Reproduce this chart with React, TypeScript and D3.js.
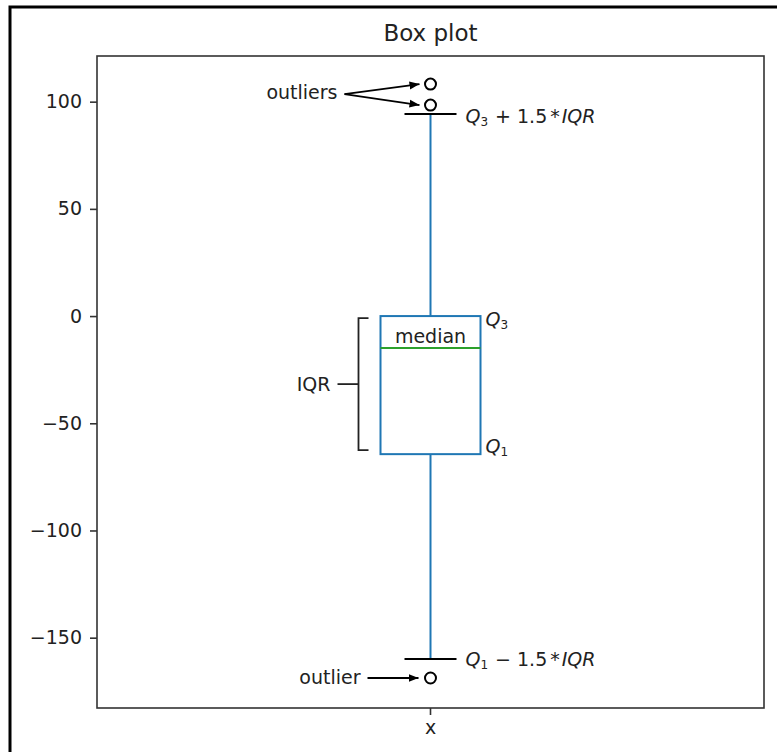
import React, { useEffect, useRef } from "react";
import * as d3 from "d3";

// box statistics
const categories = ["x"];
const q1 = [-64.4];
const median = [-14.9];
const q3 = [0];
const whiskerLow = [-160];
const whiskerHigh = [94.2];
const outliers = [[108.2, 98.4, -168.8]];
const yTicks = [-150, -100, -50, 0, 50, 100];

const W = 777;
const H = 752;
const FONT = "DejaVu Sans, sans-serif";

function App() {
  const ref = useRef<SVGSVGElement>(null);

  useEffect(() => {
    const svg = d3.select(ref.current);
    svg.selectAll("*").remove();

    const margin = { top: 56, right: 13, bottom: 44, left: 97 };
    const w = W - margin.left - margin.right;
    const h = H - margin.top - margin.bottom;

    // figure frame (only left/top visible in the crop)
    svg.append("rect")
      .attr("x", 10).attr("y", 7)
      .attr("width", W + 20).attr("height", H + 20)
      .attr("fill", "white").attr("stroke", "black").attr("stroke-width", 3);

    const defs = svg.append("defs");
    defs.append("marker")
      .attr("id", "arrow")
      .attr("viewBox", "0 0 10 10")
      .attr("refX", 10).attr("refY", 5)
      .attr("markerWidth", 10).attr("markerHeight", 10)
      .attr("markerUnits", "userSpaceOnUse")
      .attr("orient", "auto")
      .append("path").attr("d", "M0,1 L10,5 L0,9 Z").attr("fill", "black");

    const g = svg.append("g").attr("transform", `translate(${margin.left},${margin.top})`);

    const x = d3.scaleBand().domain(categories).range([0, w]);
    const y = d3.scaleLinear().domain([-182.8, 121.3]).range([h, 0]);

    // title
    g.append("text")
      .attr("x", w / 2).attr("y", -15)
      .attr("text-anchor", "middle")
      .style("font-family", FONT).style("font-size", "23px")
      .attr("fill", "#222")
      .text("Box plot");

    // axes
    const yAxis = g.append("g").call(d3.axisLeft(y).tickValues(yTicks).tickSize(7).tickPadding(8));
    const xAxis = g.append("g").attr("transform", `translate(0,${h})`)
      .call(d3.axisBottom(x).tickSize(7).tickPadding(6));
    [yAxis, xAxis].forEach(a => {
      a.select(".domain").remove();
      a.selectAll("line").attr("stroke", "#333").attr("stroke-width", 1.6);
      a.selectAll("text").style("font-family", FONT).style("font-size", "19px").attr("fill", "#222");
    });

    g.append("rect")
      .attr("width", w).attr("height", h)
      .attr("fill", "none").attr("stroke", "#333").attr("stroke-width", 1.6);

    const boxW = 100;
    const capW = 52;

    categories.forEach((c, i) => {
      const cx = (x(c) as number) + x.bandwidth() / 2;
      const left = cx - boxW / 2;
      const right = cx + boxW / 2;

      // whiskers
      g.append("line").attr("x1", cx).attr("x2", cx)
        .attr("y1", y(q3[i])).attr("y2", y(whiskerHigh[i]))
        .attr("stroke", "#1f77b4").attr("stroke-width", 2);
      g.append("line").attr("x1", cx).attr("x2", cx)
        .attr("y1", y(q1[i])).attr("y2", y(whiskerLow[i]))
        .attr("stroke", "#1f77b4").attr("stroke-width", 2);

      // caps
      [whiskerHigh[i], whiskerLow[i]].forEach(v => {
        g.append("line").attr("x1", cx - capW / 2).attr("x2", cx + capW / 2)
          .attr("y1", y(v)).attr("y2", y(v))
          .attr("stroke", "black").attr("stroke-width", 2);
      });

      // box
      g.append("rect")
        .attr("x", left).attr("y", y(q3[i]))
        .attr("width", boxW).attr("height", y(q1[i]) - y(q3[i]))
        .attr("fill", "none").attr("stroke", "#1f77b4").attr("stroke-width", 2);

      g.append("line").attr("x1", left).attr("x2", right)
        .attr("y1", y(median[i])).attr("y2", y(median[i]))
        .attr("stroke", "#2ca02c").attr("stroke-width", 2);

      // fliers
      g.selectAll(".flier" + i)
        .data(outliers[i])
        .enter().append("circle")
        .attr("cx", cx).attr("cy", d => y(d)).attr("r", 5.5)
        .attr("fill", "none").attr("stroke", "black").attr("stroke-width", 2);

      // annotations
      const txt = (tx: number, ty: number, s: string, anchor = "start") =>
        g.append("text")
          .attr("x", tx).attr("y", ty)
          .attr("text-anchor", anchor)
          .attr("dominant-baseline", "central")
          .style("font-family", FONT).style("font-size", "19px")
          .attr("fill", "#222")
          .text(s);

      const arrow = (x1: number, y1: number, x2: number, y2: number) =>
        g.append("line")
          .attr("x1", x1).attr("y1", y1).attr("x2", x2).attr("y2", y2)
          .attr("stroke", "black").attr("stroke-width", 1.8)
          .attr("marker-end", "url(#arrow)");

      const hi = outliers[i].filter(v => v > whiskerHigh[i]);
      const lo = outliers[i].filter(v => v < whiskerLow[i]);

      txt(cx - 93, y(104.5), "outliers", "end");
      hi.forEach(v => arrow(cx - 86, y(103.5), cx - 11, y(v)));

      txt(cx - 70, y(lo[0]) - 1, "outlier", "end");
      arrow(cx - 63, y(lo[0]), cx - 12, y(lo[0]));

      const mathLabel = (ty: number, sub: string, op: string) => {
        const t = g.append("text")
          .attr("x", cx + 35).attr("y", ty)
          .attr("dominant-baseline", "central")
          .style("font-family", FONT).style("font-size", "19px")
          .attr("fill", "#222");
        t.append("tspan").style("font-style", "italic").text("Q");
        t.append("tspan").attr("dy", 6).style("font-size", "12px").text(sub);
        t.append("tspan").attr("dy", -6).attr("dx", 7).text(op);
        t.append("tspan").attr("dx", 6).text("1.5");
        t.append("tspan").attr("dx", 3).text("*");
        t.append("tspan").attr("dx", 2).style("font-style", "italic").text("IQR");
      };
      mathLabel(y(whiskerHigh[i]) + 2, "3", "+");
      mathLabel(y(whiskerLow[i]), "1", "\u2212");

      txt(cx, (y(q3[i]) + y(median[i])) / 2 + 4, "median", "middle");

      const qLabel = (ty: number, sub: string) => {
        const t = g.append("text")
          .attr("x", right + 5).attr("y", ty)
          .attr("dominant-baseline", "central")
          .style("font-family", FONT).style("font-size", "19px")
          .attr("fill", "#222");
        t.append("tspan").style("font-style", "italic").text("Q");
        t.append("tspan").attr("dy", 6).style("font-size", "12px").text(sub);
      };
      qLabel(y(q3[i]) + 3, "3");
      qLabel(y(q1[i]) - 8, "1");

      // IQR bracket
      const bx = left - 22;
      const bt = y(q3[i]) + 2;
      const bb = y(q1[i]) - 4;
      g.append("path")
        .attr("d", `M${bx + 10},${bt} H${bx} V${bb} H${bx + 10}`)
        .attr("fill", "none").attr("stroke", "#222").attr("stroke-width", 1.8);
      const mid = (bt + bb) / 2;
      g.append("line").attr("x1", bx - 21).attr("x2", bx).attr("y1", mid).attr("y2", mid)
        .attr("stroke", "#222").attr("stroke-width", 1.8);
      txt(bx - 28, mid, "IQR", "end");
    });
  }, []);

  return (
    <svg ref={ref} width={W} height={H}
      style={{ position: "absolute", left: 0, top: 0, background: "white" }} />
  );
}

export default App;
